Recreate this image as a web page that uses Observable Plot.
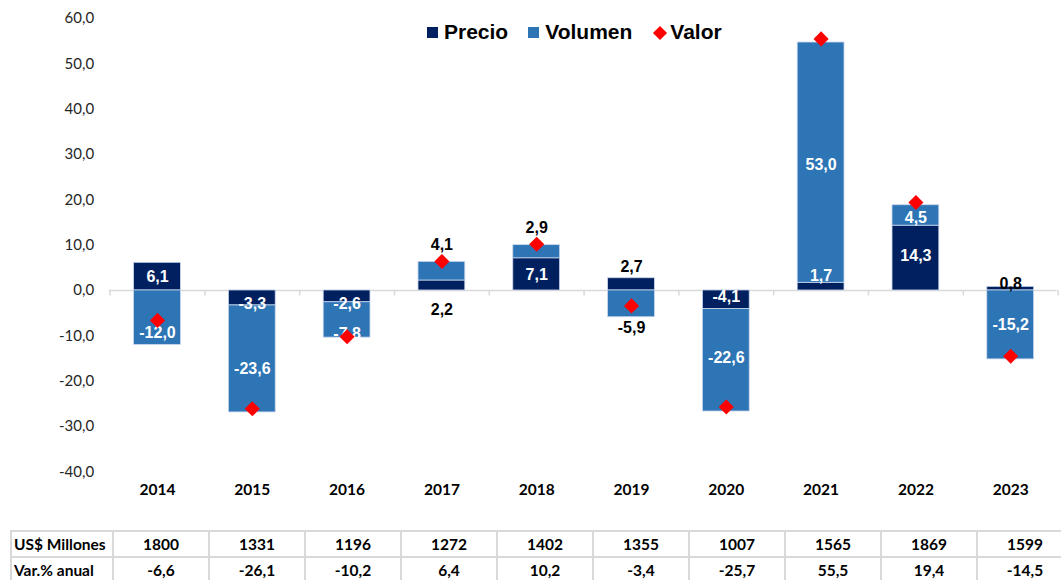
<!DOCTYPE html>
<html>
<head>
<meta charset="utf-8">
<script src="https://cdn.jsdelivr.net/npm/d3@7"></script>
<script src="https://cdn.jsdelivr.net/npm/@observablehq/plot@0.6"></script>
<style>
  html, body { margin: 0; padding: 0; background: #fff; overflow: hidden; }
  #wrap { position: relative; width: 1061px; height: 580px; overflow: hidden; }
  #legend { position: absolute; left: 427px; top: 21px; display: flex; align-items: center;
    font-family: "Liberation Sans", Arial, sans-serif; font-weight: bold; font-size: 21px; line-height: 21px; color: #000; }
  #legend .item { display: flex; align-items: center; margin-right: 20px; }
  #legend .sq { width: 11px; height: 11px; margin-right: 6px; margin-top: 2px; }
  #legend .dia { width: 10px; height: 10px; background: #ff0000; transform: rotate(45deg); margin: 2px 5px 0 3px; }
  table { border-collapse: collapse; margin-left: 10px; table-layout: fixed; width: 1062px;
    font-family: Lato, "Open Sans", sans-serif; font-weight: bold; font-size: 15.5px; color: #000; }
  td { border: 2px solid #d9d9d9; height: 24px; padding: 0; text-align: center; white-space: nowrap; }
  td.lab { text-align: left; padding-left: 2px; }
</style>
</head>
<body>
<div id="wrap">
  <div id="chart"></div>
  <div id="legend"></div>
  <div id="table"></div>
</div>
<script>
const years = ["2014","2015","2016","2017","2018","2019","2020","2021","2022","2023"];
const series = ["Precio", "Volumen"];
const precio = [6.1, -3.3, -2.6, 2.2, 7.1, 2.7, -4.1, 1.7, 14.3, 0.8];
const volumen = [-12.0, -23.6, -7.8, 4.1, 2.9, -5.9, -22.6, 53.0, 4.5, -15.2];
const valor = [-6.6, -26.1, -10.2, 6.4, 10.2, -3.4, -25.7, 55.5, 19.4, -14.5];
const millones = [1800, 1331, 1196, 1272, 1402, 1355, 1007, 1565, 1869, 1599];
const yTicks = [-40, -30, -20, -10, 0, 10, 20, 30, 40, 50, 60];
const rowLabels = ["US$ Millones", "Var.% anual"];

const colors = ["#002060", "#2E75B6"];
const fmt = v => v.toFixed(1).replace(".", ",");

// label placement tweaks (pixels), style only
const labelAdjust = {
  "2014-Volumen": {dy: 15},
  "2015-Precio": {dy: 6}, "2015-Volumen": {dy: 10},
  "2016-Precio": {dy: 8}, "2016-Volumen": {dy: 14},
  "2017-Precio": {dy: 24, fill: "#000"}, "2017-Volumen": {dy: -26, fill: "#000"},
  "2018-Volumen": {dy: -24, fill: "#000"},
  "2019-Precio": {dy: -17, fill: "#000"}, "2019-Volumen": {dy: 24, fill: "#000"},
  "2020-Precio": {dy: -3}, "2020-Volumen": {dy: -2},
  "2021-Precio": {dy: -11}, "2021-Volumen": {dy: 2},
  "2022-Precio": {dy: -2}, "2022-Volumen": {dy: 2},
  "2023-Precio": {dy: -5, fill: "#000"}
};

const rows = years.flatMap((y, i) => [
  {year: y, series: "Precio", value: precio[i]},
  {year: y, series: "Volumen", value: volumen[i]}
]);
const valorRows = years.map((y, i) => ({year: y, value: valor[i]}));

// label midpoints from the stacked segments
const labels = years.flatMap((y, i) => {
  const p = precio[i], v = volumen[i];
  const vStart = Math.sign(v) === Math.sign(p) ? p : 0;
  return [
    {year: y, series: "Precio", value: p, mid: p / 2},
    {year: y, series: "Volumen", value: v, mid: vStart + v / 2}
  ];
});

const W = 1061, H = 530;
const marginLeft = 109.6, marginRight = 3.4;
const step = (W - marginLeft - marginRight) / years.length;

const labelMarks = labels.map(l => {
  const a = labelAdjust[l.year + "-" + l.series] || {};
  return Plot.text([l], {
    x: "year", y: "mid", text: d => fmt(d.value),
    dy: a.dy || 0, fill: a.fill || "#fff",
    fontSize: 16, fontWeight: "bold", fontFamily: "Liberation Sans, Arial, sans-serif"
  });
});

const chart = Plot.plot({
  width: W, height: H,
  marginTop: 18, marginBottom: 58.7, marginLeft, marginRight,
  style: {fontFamily: "Lato, 'Open Sans', sans-serif", color: "#262626", background: "#fff"},
  x: {type: "band", domain: years, padding: 0, round: false},
  y: {domain: [-40, 60]},
  color: {domain: series, range: colors},
  marks: [
    Plot.axisY({ticks: yTicks, tickSize: 0, tickPadding: 16, tickFormat: fmt, fontSize: 15, label: null}),
    Plot.axisX({tickSize: 0, tickPadding: 12, fontSize: 15.5, fontWeight: "bold", label: null, fill: "#000"}),
    Plot.ruleY([0], {stroke: "#d9d9d9", strokeWidth: 1.5, dx: -1}),
    Plot.ruleX(years, {x: d => d, y1: 0, y2: -1.2, dx: -step / 2, stroke: "#d9d9d9", strokeWidth: 1.5}),
    Plot.ruleX(years.slice(-1), {x: d => d, y1: 0, y2: -1.2, dx: step / 2, stroke: "#d9d9d9", strokeWidth: 1.5}),
    Plot.barY(rows, {x: "year", y: "value", fill: "series", insetLeft: 24, insetRight: 24,
      stroke: "#c9d6ec", strokeWidth: 0.8}),
    ...labelMarks,
    Plot.dot(valorRows, {x: "year", y: "value", symbol: "diamond2", r: 6.8, fill: "#ff0000", stroke: "none"})
  ]
});
document.getElementById("chart").appendChild(chart);

// legend
const legend = d3.select("#legend");
series.forEach((s, i) => {
  const it = legend.append("div").attr("class", "item");
  it.append("div").attr("class", "sq").style("background", colors[i]);
  it.append("span").text(s);
});
const vi = legend.append("div").attr("class", "item");
vi.append("div").attr("class", "dia");
vi.append("span").text("Valor");

// table
const table = d3.select("#table").append("table");
const cg = table.append("colgroup");
cg.append("col").style("width", "102px");
years.forEach(() => cg.append("col").style("width", "96px"));
const r1 = table.append("tr");
r1.append("td").attr("class", "lab").text(rowLabels[0]);
millones.forEach(v => r1.append("td").text(v));
const r2 = table.append("tr");
r2.append("td").attr("class", "lab").text(rowLabels[1]);
valor.forEach(v => r2.append("td").text(fmt(v)));
</script>
</body>
</html>
